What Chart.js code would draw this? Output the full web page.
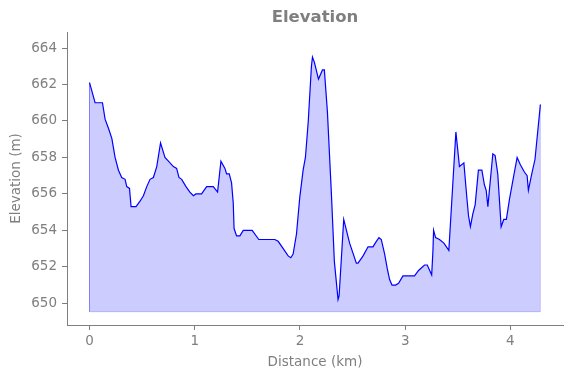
<!DOCTYPE html>
<html>
<head>
<meta charset="utf-8">
<script src="https://cdn.jsdelivr.net/npm/chart.js@4.4.0/dist/chart.umd.min.js"></script>
<style>
  body { margin: 0; background: #fff; }
</style>
</head>
<body>
<canvas id="myChart" width="571" height="378"></canvas>
<script>
// distance along the track (km) and elevation (m)
var distKm = [
  0.0, 0.053, 0.123, 0.148, 0.180, 0.212, 0.243, 0.275, 0.306, 0.338,
  0.354, 0.380, 0.395, 0.442, 0.480, 0.512, 0.544, 0.575, 0.607, 0.639,
  0.675, 0.717, 0.750, 0.797, 0.828, 0.850, 0.876, 0.917, 0.954, 0.987,
  1.011, 1.065, 1.113, 1.176, 1.217, 1.249, 1.287, 1.303, 1.328, 1.350,
  1.366, 1.374, 1.398, 1.429, 1.461, 1.546, 1.609, 1.761, 1.793, 1.841,
  1.888, 1.913, 1.935, 1.967, 1.998, 2.030, 2.052, 2.078, 2.109, 2.119,
  2.138, 2.176, 2.214, 2.232, 2.261, 2.299, 2.327, 2.362, 2.372, 2.416,
  2.472, 2.536, 2.552, 2.600, 2.647, 2.694, 2.726, 2.751, 2.773, 2.805,
  2.830, 2.852, 2.875, 2.909, 2.937, 2.979, 3.089, 3.127, 3.184, 3.210,
  3.252, 3.264, 3.270, 3.289, 3.326, 3.368, 3.415, 3.482, 3.516, 3.558,
  3.586, 3.602, 3.620, 3.643, 3.665, 3.696, 3.729, 3.753, 3.770, 3.786,
  3.833, 3.855, 3.880, 3.912, 3.937, 3.962, 3.991, 4.032, 4.064, 4.095,
  4.133, 4.159, 4.171, 4.203, 4.234, 4.285
];
var elevM = [
  662.1, 661.0, 661.0, 660.1, 659.6, 659.05, 658.0, 657.3, 656.9, 656.8,
  656.4, 656.3, 655.3, 655.3, 655.6, 655.9, 656.4, 656.8, 656.9, 657.5,
  658.8, 658.0, 657.8, 657.5, 657.4, 656.9, 656.8, 656.4, 656.1, 655.9,
  656.0, 656.0, 656.4, 656.4, 656.1, 657.8, 657.4, 657.1, 657.1, 656.6,
  655.5, 654.1, 653.7, 653.7, 654.0, 654.0, 653.5, 653.5, 653.4, 653.0,
  652.6, 652.5, 652.7, 653.8, 655.8, 657.3, 658.0, 659.9, 663.0, 663.5,
  663.2, 662.3, 662.8, 662.8, 660.5, 656.0, 652.3, 650.2, 650.4, 654.6,
  653.3, 652.2, 652.2, 652.6, 653.1, 653.1, 653.4, 653.6, 653.5, 652.7,
  651.9, 651.3, 651.0, 651.0, 651.1, 651.5, 651.5, 651.8, 652.1, 652.1,
  651.55, 652.9, 654.0, 653.6, 653.5, 653.3, 652.9, 659.4, 657.5, 657.7,
  655.8, 654.8, 654.2, 654.9, 655.4, 657.3, 657.3, 656.5, 656.2, 655.3,
  658.2, 658.1, 657.1, 654.2, 654.6, 654.6, 655.7, 657.0, 658.0, 657.6,
  657.2, 657.0, 656.2, 657.1, 657.9, 660.9
];
var fillBase = 649.54;   // bottom of the shaded area
var xTicks = [0, 1, 2, 3, 4];
var yTicks = [650, 652, 654, 656, 658, 660, 662, 664];

var grey = '#7f7f7f';
var points = distKm.map(function (d, i) { return { x: d, y: elevM[i] }; });
var last = distKm.length - 1;
// faint outline of the shaded area (sides and bottom)
var outline = [
  { x: distKm[0], y: elevM[0] },
  { x: distKm[0], y: fillBase },
  { x: distKm[last], y: fillBase },
  { x: distKm[last], y: elevM[last] }
];

// draws the chart title centred over the plot area
var titlePlugin = {
  id: 'plotTitle',
  afterDraw: function (chart) {
    var c = chart.ctx;
    var area = chart.chartArea;
    c.save();
    c.font = 'bold 16.5px "DejaVu Sans"';
    c.fillStyle = grey;
    c.textAlign = 'center';
    c.textBaseline = 'middle';
    c.fillText('Elevation', (area.left + area.right) / 2, 18);
    c.restore();
  }
};

var ctx = document.getElementById('myChart').getContext('2d');
var chart = new Chart(ctx, {
  type: 'line',
  data: {
    datasets: [{
      label: 'Elevation',
      data: points,
      borderColor: '#0000ff',
      borderWidth: 1.2,
      backgroundColor: 'rgba(0, 0, 255, 0.2)',
      fill: { value: fillBase },
      pointRadius: 0,
      tension: 0,
      order: 0
    }, {
      label: 'area edge',
      data: outline,
      borderColor: 'rgba(0, 0, 255, 0.2)',
      borderWidth: 1,
      fill: false,
      pointRadius: 0,
      tension: 0,
      order: 1
    }]
  },
  plugins: [titlePlugin],
  options: {
    responsive: false,
    animation: false,
    layout: { padding: { top: 32, right: 8, left: 0, bottom: 0 } },
    plugins: {
      legend: { display: false },
      tooltip: { enabled: false },
      title: { display: false }
    },
    scales: {
      x: {
        type: 'linear',
        min: -0.214,
        max: 4.5,
        afterFit: function (scale) { scale.height = 53; },
        afterBuildTicks: function (scale) {
          scale.ticks = xTicks.map(function (v) { return { value: v }; });
        },
        grid: {
          drawOnChartArea: false,
          drawTicks: true,
          tickLength: 5,
          tickColor: grey
        },
        border: { display: true, color: grey, width: 1 },
        ticks: {
          color: grey,
          padding: 3,
          maxRotation: 0,
          font: { family: 'DejaVu Sans', size: 13.5 }
        },
        title: {
          display: true,
          text: 'Distance (km)',
          color: grey,
          padding: { top: 0, bottom: 7 },
          font: { family: 'DejaVu Sans', size: 13.5 }
        }
      },
      y: {
        type: 'linear',
        min: 648.81,
        max: 664.88,
        afterFit: function (scale) { scale.width = 67; },
        afterBuildTicks: function (scale) {
          scale.ticks = yTicks.map(function (v) { return { value: v }; });
        },
        grid: {
          drawOnChartArea: false,
          drawTicks: true,
          tickLength: 5,
          tickColor: grey
        },
        border: { display: true, color: grey, width: 1 },
        ticks: {
          color: grey,
          padding: 5,
          font: { family: 'DejaVu Sans', size: 13.5 }
        },
        title: {
          display: true,
          text: 'Elevation (m)',
          color: grey,
          padding: { top: 8, bottom: 0 },
          font: { family: 'DejaVu Sans', size: 13.5 }
        }
      }
    }
  }
});
</script>
</body>
</html>
